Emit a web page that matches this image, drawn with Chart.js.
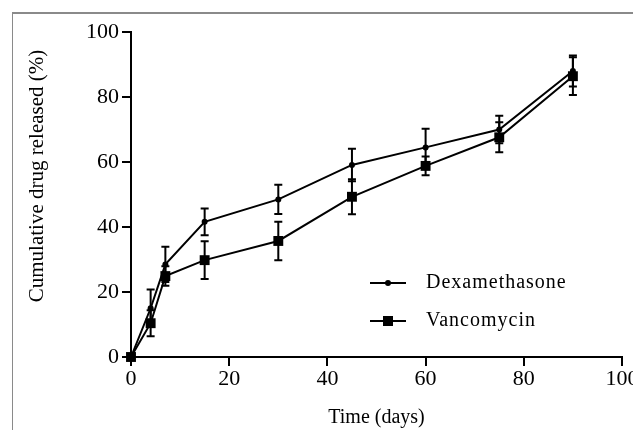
<!DOCTYPE html>
<html>
<head>
<meta charset="utf-8">
<script src="https://cdn.jsdelivr.net/npm/chart.js@4.4.0/dist/chart.umd.min.js"></script>
<style>
  html, body { margin: 0; padding: 0; background: #fff; overflow: hidden; }
  #wrap { position: relative; width: 633px; height: 430px; }
  /* moldura cinza do recorte original */
  #moldura { position: absolute; left: 12px; top: 12px; right: 0; bottom: 0;
             border-top: 2px solid #8a8a8a; border-left: 1px solid #8a8a8a; }
  canvas { position: absolute; left: 0; top: 0; }
</style>
</head>
<body>
<div id="wrap">
  <div id="moldura"></div>
  <canvas id="graficoLiberacao" width="633" height="430"></canvas>
</div>
<script>
// Dados (tempo em dias, liberação acumulada em %)
const dias = [0, 4, 7, 15, 30, 45, 60, 75, 90];
const dexametasona = [0, 15.0, 28.5, 41.6, 48.5, 59.1, 64.5, 70.0, 88.0];
const dexametasonaDP = [0, 5.8, 5.4, 4.1, 4.5, 5.0, 5.7, 4.2, 4.8];
const vancomicina = [0, 10.4, 24.9, 29.8, 35.7, 49.3, 58.8, 67.6, 86.4];
const vancomicinaDP = [0, 4.0, 3.0, 5.8, 5.9, 5.4, 2.9, 4.6, 5.8];
const rotulos = ['Dexamethasone', 'Vancomycin'];
const ticksX = [0, 20, 40, 60, 80, 100];
const ticksY = [0, 20, 40, 60, 80, 100];
const tituloX = 'Time (days)';
const tituloY = 'Cumulative drug released (%)';

const FONTE = "'Liberation Serif', 'Times New Roman', serif";

function pontos(valores) {
    return dias.map((d, i) => ({ x: d, y: valores[i] }));
}

// Barras de erro (média ± DP)
const barrasErro = {
    id: 'barrasErro',
    afterDatasetsDraw(chart) {
        const ctx = chart.ctx;
        const xS = chart.scales.x, yS = chart.scales.y;
        ctx.save();
        ctx.strokeStyle = '#000';
        ctx.lineWidth = 2;
        chart.data.datasets.forEach(ds => {
            ds.erros.forEach((dp, i) => {
                if (!dp) return;
                const x = xS.getPixelForValue(ds.data[i].x);
                const yTop = yS.getPixelForValue(ds.data[i].y + dp);
                const yBot = yS.getPixelForValue(ds.data[i].y - dp);
                ctx.beginPath();
                ctx.moveTo(x, yTop); ctx.lineTo(x, yBot);
                ctx.moveTo(x - 4, yTop); ctx.lineTo(x + 4, yTop);
                ctx.moveTo(x - 4, yBot); ctx.lineTo(x + 4, yBot);
                ctx.stroke();
            });
        });
        ctx.restore();
    }
};

// Título do eixo Y (um pouco acima do centro, como no original)
const tituloEixoY = {
    id: 'tituloEixoY',
    afterDraw(chart) {
        const ctx = chart.ctx;
        ctx.save();
        ctx.translate(37, 176);
        ctx.rotate(-Math.PI / 2);
        ctx.font = `21px ${FONTE}`;
        ctx.fillStyle = '#000';
        ctx.textAlign = 'center';
        ctx.textBaseline = 'middle';
        ctx.fillText(tituloY, 0, 0);
        ctx.restore();
    }
};

// Legenda dentro da área do gráfico
const legendaInterna = {
    id: 'legendaInterna',
    afterDraw(chart) {
        const ctx = chart.ctx;
        const x0 = 370, yPos = [283, 321];
        ctx.save();
        chart.data.datasets.forEach((ds, i) => {
            const y = yPos[i];
            ctx.strokeStyle = '#000';
            ctx.lineWidth = 2;
            ctx.beginPath();
            ctx.moveTo(x0, y); ctx.lineTo(x0 + 36, y);
            ctx.stroke();
            ctx.fillStyle = '#000';
            if (ds.pointStyle === 'rect') {
                ctx.fillRect(x0 + 18 - 5, y - 5, 10, 10);
            } else {
                ctx.beginPath();
                ctx.arc(x0 + 18, y, 3, 0, Math.PI * 2);
                ctx.fill();
            }
            ctx.font = `20px ${FONTE}`;
            ctx.letterSpacing = '1px';
            ctx.textBaseline = 'middle';
            ctx.fillText(ds.label, x0 + 56, y);
        });
        ctx.restore();
    }
};

const ctx = document.getElementById('graficoLiberacao').getContext('2d');
new Chart(ctx, {
    type: 'line',
    data: {
        datasets: [
            {
                label: rotulos[0],
                data: pontos(dexametasona),
                erros: dexametasonaDP,
                borderColor: '#000',
                backgroundColor: '#000',
                borderWidth: 2,
                pointStyle: 'circle',
                pointRadius: 3,
                pointBorderWidth: 0,
                tension: 0,
                clip: false
            },
            {
                label: rotulos[1],
                data: pontos(vancomicina),
                erros: vancomicinaDP,
                borderColor: '#000',
                backgroundColor: '#000',
                borderWidth: 2,
                pointStyle: 'rect',
                pointRadius: 7,
                pointBorderWidth: 0,
                tension: 0,
                clip: false
            }
        ]
    },
    options: {
        responsive: false,
        animation: false,
        layout: { padding: { top: 32, right: 11, bottom: 0, left: 0 } },
        plugins: {
            legend: { display: false },
            tooltip: { enabled: false }
        },
        scales: {
            x: {
                type: 'linear',
                min: 0,
                max: 100,
                afterBuildTicks: (scale) => { scale.ticks = ticksX.map(v => ({ value: v })); },
                ticks: { color: '#000', font: { family: FONTE, size: 22 }, padding: 0, maxRotation: 0 },
                grid: { drawOnChartArea: false, drawTicks: true, tickLength: 9, color: '#000', lineWidth: 2 },
                border: { color: '#000', width: 2 },
                title: {
                    display: true,
                    text: tituloX,
                    color: '#000',
                    font: { family: FONTE, size: 20 },
                    padding: { top: 0, bottom: 0 }
                },
                afterFit: (scale) => { scale.paddingLeft = 0; scale.paddingRight = 0; scale.height = 73; }
            },
            y: {
                min: 0,
                max: 100,
                afterBuildTicks: (scale) => { scale.ticks = ticksY.map(v => ({ value: v })); },
                ticks: { color: '#000', font: { family: FONTE, size: 22 }, padding: 3 },
                grid: { drawOnChartArea: false, drawTicks: true, tickLength: 9, color: '#000', lineWidth: 2 },
                border: { color: '#000', width: 2 },
                title: { display: false },
                afterFit: (scale) => { scale.width = 131; scale.paddingTop = 0; scale.paddingBottom = 0; }
            }
        }
    },
    plugins: [barrasErro, tituloEixoY, legendaInterna]
});
</script>
</body>
</html>
